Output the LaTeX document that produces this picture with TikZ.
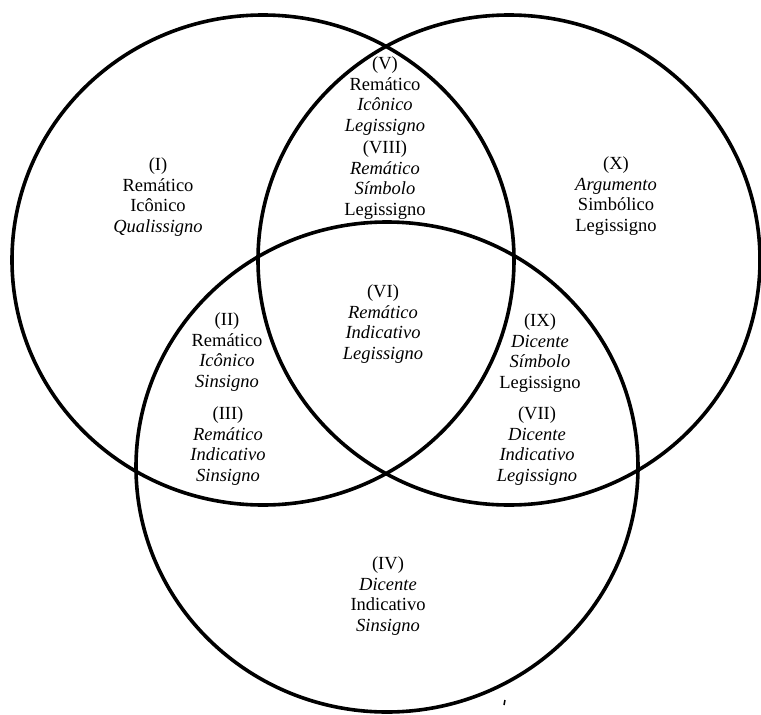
\documentclass[tikz,border=0pt]{standalone}
\usepackage{fontspec}
\setmainfont{Liberation Serif}
\begin{document}
\begin{tikzpicture}[x=1pt,y=-1pt,
  ring/.style={line width=3.6pt},
  lbl/.style={align=center,inner sep=0pt,font=\fontsize{18.5}{20.7}\selectfont}]
\useasboundingbox (0,0) rectangle (761,715);
% the three circles
\draw[ring] (263,260) ellipse [x radius=251, y radius=245];
\draw[ring] (509,260) ellipse [x radius=251, y radius=245];
\draw[ring] (387,467) ellipse [x radius=251, y radius=245];
% labels
\node[lbl] (r1) at (158,197) {(I)\\Remático\\Icônico\\\textit{Qualissigno}};
\node[lbl] (r5) at (385,96) {(V)\\Remático\\\textit{Icônico}\\\textit{Legissigno}};
\node[lbl] (r8) at (385,180) {(VIII)\\\textit{Remático}\\\textit{Símbolo}\\Legissigno};
\node[lbl] (r10) at (616,196) {(X)\\\textit{Argumento}\\Simbólico\\Legissigno};
\node[lbl] (r6) at (383,324) {(VI)\\\textit{Remático}\\\textit{Indicativo}\\\textit{Legissigno}};
\node[lbl] (r2) at (227,352) {(II)\\Remático\\\textit{Icônico}\\\textit{Sinsigno}};
\node[lbl] (r3) at (228,446) {(III)\\\textit{Remático}\\\textit{Indicativo}\\\textit{Sinsigno}};
\node[lbl] (r9) at (540,353) {(IX)\\\textit{Dicente}\\\textit{Símbolo}\\Legissigno};
\node[lbl] (r7) at (537,446) {(VII)\\\textit{Dicente}\\\textit{Indicativo}\\\textit{Legissigno}};
\node[lbl] (r4) at (388,596) {(IV)\\\textit{Dicente}\\Indicativo\\\textit{Sinsigno}};
% small mark
\draw[line width=1.5pt] (505,700) -- (504,705);
\end{tikzpicture}
\end{document}
